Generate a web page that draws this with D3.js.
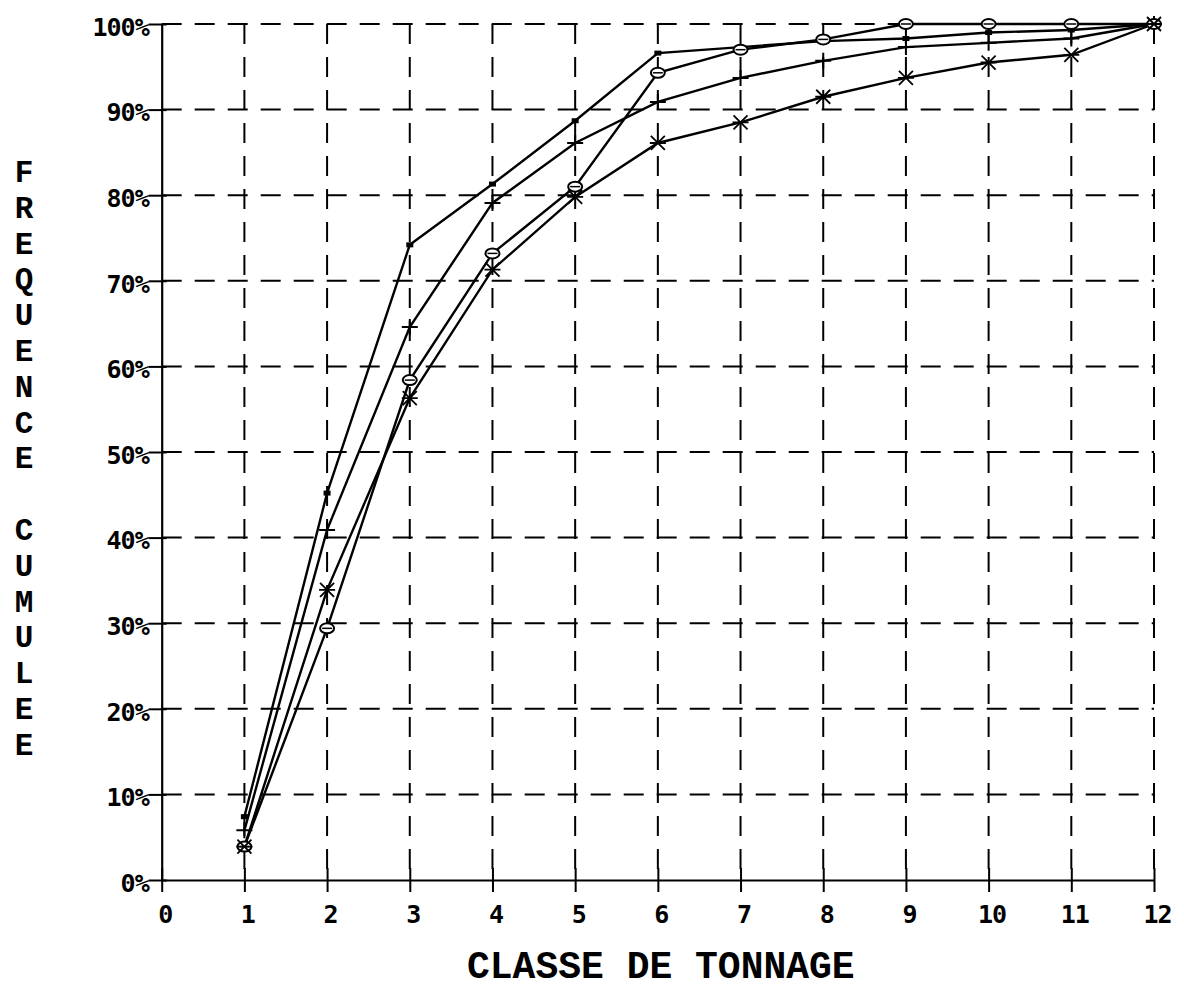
<!DOCTYPE html>
<html>
<head>
<meta charset="utf-8">
<script src="https://cdn.jsdelivr.net/npm/d3@7/dist/d3.min.js"></script>
<style>
  html, body { margin: 0; padding: 0; background: #fff; }
  svg { display: block; }
</style>
</head>
<body>
<svg id="chart" width="1184" height="988"></svg>
<script>
// ---- data ----
const classes = [1, 2, 3, 4, 5, 6, 7, 8, 9, 10, 11, 12];
const seriesSquare   = [7.4, 45.2, 74.2, 81.3, 88.7, 96.6, 97.3, 98.0, 98.3, 99.0, 99.3, 100];
const seriesPlus     = [5.8, 40.9, 64.6, 79.1, 86.1, 90.9, 93.7, 95.7, 97.3, 97.8, 98.3, 100];
const seriesCircle   = [3.9, 29.4, 58.4, 73.2, 81.0, 94.3, 97.0, 98.2, 100, 100, 100, 100];
const seriesAsterisk = [3.9, 33.9, 56.3, 71.3, 79.8, 86.1, 88.5, 91.5, 93.7, 95.5, 96.4, 100];
const xTickValues = [0, 1, 2, 3, 4, 5, 6, 7, 8, 9, 10, 11, 12];
const xTickLabels = ["0", "1", "2", "3", "4", "5", "6", "7", "8", "9", "10", "11", "12"];
const yTickValues = [0, 10, 20, 30, 40, 50, 60, 70, 80, 90, 100];
const yTickLabels = ["0%", "10%", "20%", "30%", "40%", "50%", "60%", "70%", "80%", "90%", "100%"];
const xTitle = "CLASSE DE TONNAGE";
const yTitle = "FREQUENCE CUMULEE";

// ---- layout ----
const svg = d3.select("#chart");
const x = d3.scaleLinear().domain([0, 12]).range([161.7, 1154]);
const y = d3.scaleLinear().domain([0, 100]).range([880, 24]);

const monoSans = "'DejaVu Sans Mono', 'Liberation Mono', monospace";
const monoSerif = "'Liberation Mono', 'Courier New', monospace";

// grid
const grid = svg.append("g").attr("stroke", "#000").attr("stroke-width", 2)
  .attr("stroke-dasharray", "20,13").attr("fill", "none");
grid.selectAll("line.v").data(xTickValues.filter(d => d > 0)).enter().append("line")
  .attr("class", "v")
  .attr("x1", d => x(d)).attr("x2", d => x(d))
  .attr("y1", y(100)).attr("y2", y(0));
grid.selectAll("line.h").data(yTickValues.filter(d => d > 0)).enter().append("line")
  .attr("class", "h")
  .attr("x1", x(0)).attr("x2", x(12))
  .attr("y1", d => y(d)).attr("y2", d => y(d));

// x axis
const xAxis = svg.append("g").attr("transform", `translate(0,${y(0)})`)
  .call(d3.axisBottom(x).tickValues(xTickValues).tickFormat((d, i) => xTickLabels[i])
    .tickSizeInner(12).tickSizeOuter(0).tickPadding(13));
xAxis.select(".domain").attr("stroke", "#000").attr("stroke-width", 2.2);
xAxis.selectAll(".tick line").attr("stroke", "#000").attr("stroke-width", 2).attr("y1", -12).attr("y2", 12);
xAxis.selectAll(".tick text").attr("fill", "#000")
  .style("font-family", monoSans).style("font-size", "25px").style("font-weight", "bold")
  .style("letter-spacing", "-1px")
  .attr("dx", 3);

// y axis
const yAxis = svg.append("g").attr("transform", `translate(${x(0)},0)`)
  .call(d3.axisLeft(y).tickValues(yTickValues).tickFormat((d, i) => yTickLabels[i])
    .tickSizeInner(13).tickSizeOuter(0).tickPadding(0));
yAxis.select(".domain").attr("stroke", "#000").attr("stroke-width", 2.2);
yAxis.selectAll(".tick line").attr("stroke", "#000").attr("stroke-width", 2).attr("x1", 5);
yAxis.selectAll(".tick text").attr("fill", "#000")
  .style("font-family", monoSans).style("font-size", "25px").style("font-weight", "bold")
  .style("letter-spacing", "-1px")
  .attr("dy", "0.45em");

// titles
svg.append("text")
  .attr("x", (x(0) + x(12)) / 2 + 3).attr("y", 978)
  .attr("text-anchor", "middle")
  .style("font-family", monoSerif).style("font-size", "38px").style("font-weight", "bold")
  .text(xTitle);

const yt = svg.append("text")
  .style("font-family", monoSerif).style("font-size", "31px").style("font-weight", "bold")
  .attr("text-anchor", "middle");
yTitle.split("").forEach((ch, i) => {
  yt.append("tspan").attr("x", 24).attr("y", 182 + i * 35.8).text(ch === " " ? "\u00a0" : ch);
});

// series
const line = d3.line().x((d, i) => x(classes[i])).y(d => y(d));
const allSeries = [
  { values: seriesSquare, marker: "square" },
  { values: seriesPlus, marker: "plus" },
  { values: seriesCircle, marker: "circle" },
  { values: seriesAsterisk, marker: "asterisk" }
];
const sg = svg.append("g");
allSeries.forEach(s => {
  sg.append("path").attr("d", line(s.values))
    .attr("fill", "none").attr("stroke", "#000").attr("stroke-width", 2.4)
    .attr("stroke-linejoin", "miter");
});

allSeries.forEach(s => {
  const g = sg.append("g");
  s.values.forEach((v, i) => {
    const cx = x(classes[i]), cy = y(v);
    if (s.marker === "square") {
      g.append("rect").attr("x", cx - 3.5).attr("y", cy - 2.5).attr("width", 7).attr("height", 5).attr("fill", "#000");
    } else if (s.marker === "plus") {
      g.append("path").attr("d", `M${cx - 8},${cy}H${cx + 8}M${cx},${cy - 8}V${cy + 8}`)
        .attr("stroke", "#000").attr("stroke-width", 2).attr("fill", "none");
    } else if (s.marker === "circle") {
      g.append("ellipse").attr("cx", cx).attr("cy", cy).attr("rx", 7).attr("ry", 5)
        .attr("fill", "#fff").attr("stroke", "#000").attr("stroke-width", 2);
      g.append("line").attr("x1", cx - 5).attr("x2", cx + 5).attr("y1", cy).attr("y2", cy)
        .attr("stroke", "#000").attr("stroke-width", 1.5);
    } else if (s.marker === "asterisk") {
      g.append("path").attr("d",
        `M${cx - 7},${cy - 7}L${cx + 7},${cy + 7}M${cx - 7},${cy + 7}L${cx + 7},${cy - 7}M${cx - 8},${cy}H${cx + 8}`)
        .attr("stroke", "#000").attr("stroke-width", 1.8).attr("fill", "none");
    }
  });
});
</script>
</body>
</html>
